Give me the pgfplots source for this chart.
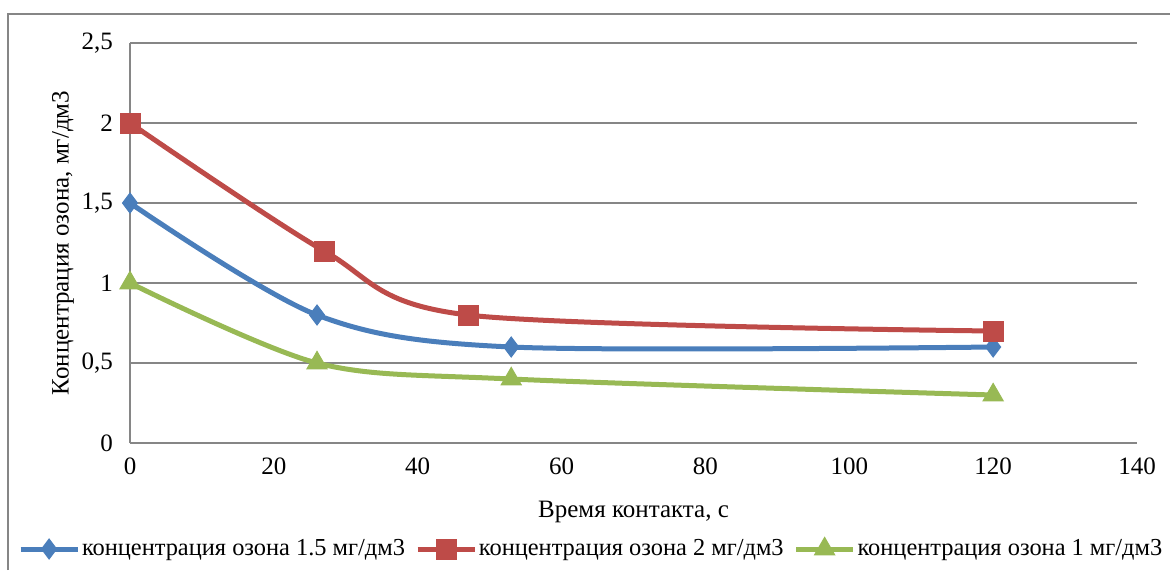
\documentclass[border=0pt]{standalone}
\usepackage{pgfplots}
\pgfplotsset{compat=1.18}
\usepackage{fontspec}
\setmainfont{Liberation Serif}
\definecolor{cblue}{HTML}{4A7EBB}
\definecolor{cred}{HTML}{BE4B48}
\definecolor{cgreen}{HTML}{98B954}
\definecolor{cgrid}{HTML}{868686}
\begin{document}
\begin{tikzpicture}
\useasboundingbox (0pt,0pt) rectangle (585pt,285pt);
\draw[cgrid,line width=0.8pt] (4pt,0pt) -- (4pt,278pt) -- (585pt,278pt);
\begin{axis}[
  at={(65pt,63.5pt)}, anchor=south west,
  scale only axis, width=503.5pt, height=200pt,
  xmin=0, xmax=140, ymin=0, ymax=2.5,
  xtick={0,20,...,140}, ytick={0,0.5,...,2.5},
  axis lines*=left,
  axis line style={cgrid,line width=0.8pt},
  major tick length=0pt,
  ymajorgrids, grid style={cgrid,line width=0.8pt},
  /pgf/number format/assume math mode=true,
  font=\fontsize{12.5}{14}\selectfont,
  yticklabel style={/pgf/number format/use comma,/pgf/number format/fixed,xshift=-5pt},
  xticklabel style={yshift=-4pt},
  xlabel={Время контакта, с},
  ylabel={Концентрация озона, мг/дм3},
  xlabel style={yshift=-6pt},
  ylabel style={yshift=-3pt},
  legend columns=3,
  legend style={draw=none, at={(0.459,-0.265)}, anchor=center,
    font=\fontsize{12.2}{14}\selectfont, inner sep=0pt,
    /tikz/every odd column/.append style={column sep=-1pt},
    /tikz/every even column/.append style={column sep=3pt}},
  legend image code/.code={\draw[mark repeat=2,mark phase=2] plot coordinates {(0cm,0cm) (0.5cm,0cm) (1cm,0cm)};},
  every axis plot/.append style={line width=2.5pt, smooth, tension=0.5},
  clip=false,
]
\addplot[cblue, mark=diamond*, mark size=5pt, mark options={line width=0.5pt}] coordinates {(0,1.5) (26,0.8) (53,0.6) (120,0.6)};
\addlegendentry{концентрация озона 1.5 мг/дм3}
\addplot[cred, mark=square*, mark size=5pt, mark options={line width=0.5pt}] coordinates {(0,2) (27,1.2) (47,0.8) (120,0.7)};
\addlegendentry{концентрация озона 2 мг/дм3}
\addplot[cgreen, mark=triangle*, mark size=5.8pt, mark options={line width=0.5pt}] coordinates {(0,1) (26,0.5) (53,0.4) (120,0.3)};
\addlegendentry{концентрация озона 1 мг/дм3}
\end{axis}
\end{tikzpicture}
\end{document}
